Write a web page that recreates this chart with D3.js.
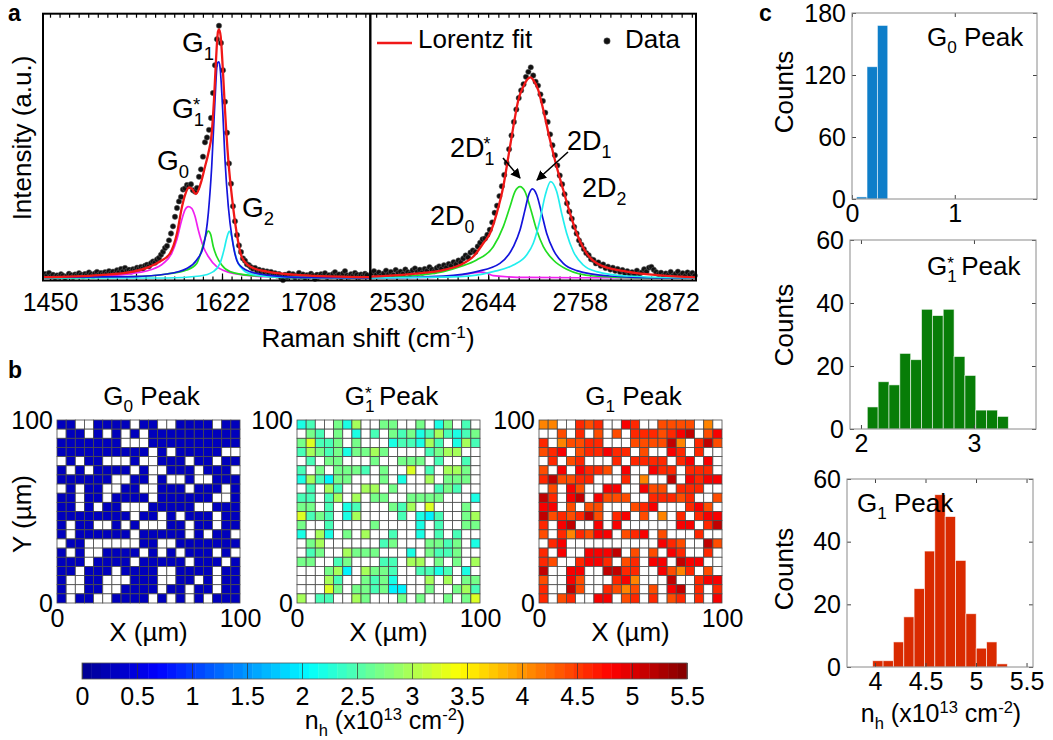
<!DOCTYPE html>
<html>
<head>
<meta charset="utf-8">
<script src="https://cdn.jsdelivr.net/npm/d3@7"></script>
<style>
  body { margin: 0; background: #fff; }
  text { font-family: "Liberation Sans", Arial, sans-serif; fill: #000; }
</style>
</head>
<body>
<script>
// ---------- panel a : Raman spectra (intensity in a.u., 0-100) ----------
var gShift = d3.range(1445, 1768, 2);
var gCounts = [
  1.5,0.8,1.9,0.6,1.2,0.3,1.0,0.5,1.4,0.9,
  0.2,0.7,1.6,1.1,0.4,1.3,0.9,1.8,1.2,0.6,
  1.5,1.0,2.1,1.4,0.8,1.7,2.3,1.2,1.9,1.4,
  2.2,1.6,2.6,1.8,2.4,1.5,2.9,2.2,3.4,2.5,
  3.8,2.7,3.1,2.4,3.3,2.9,3.9,3.4,4.2,3.6,
  4.6,5.0,4.4,5.6,6.2,5.8,7.0,7.6,8.8,9.9,
  11.3,12.1,14.2,16.8,19.5,23.1,26.4,28.9,30.6,33.4,
  33.8,35.1,34.6,35.4,33.1,32.6,34.0,38.2,41.0,45.8,
  51.2,53.0,55.9,60.4,69.8,80.3,90.1,95.2,88.7,78.4,
  66.5,54.8,43.2,35.6,27.1,21.4,16.2,12.3,9.8,7.4,
  6.5,5.2,4.8,4.1,3.5,3.8,2.7,3.1,2.2,2.8,
  1.9,2.5,1.6,2.3,1.1,1.8,0.9,1.5,0.2,-0.8,
  1.2,0.4,1.7,0.8,1.4,0.3,1.0,1.9,0.6,1.3,
  0.2,1.1,0.7,1.6,0.9,-0.3,1.2,0.5,1.4,0.8,
  1.8,0.4,1.1,0.6,1.5,2.2,0.9,1.3,0.3,1.7,
  2.6,1.0,0.5,1.4,0.8,1.9,1.2,0.4,1.3,0.7,
  1.6,1.1
];
var gFitX = [1443,1500,1533,1550,1560,1570,1577,1582,1585,1589,1592,1596,1601.7,1605,1608.3,1611.7,1614,1616,1618,1619,1620.7,1622.7,1625,1628.3,1632.3,1636.7,1641.7,1650,1667,1700,1770];
var gFitY = [0.3,1.1,2.4,4.3,6.2,9.3,16.9,26.9,31.3,34.2,33.6,31.7,37.0,42.0,47.0,54.6,67.2,82.3,93.0,93.8,91.1,79.7,63.4,44.5,29.4,16.9,8.0,4.3,2.4,1.1,0.3];
var g0X = [1443,1500,1533.3,1550,1563.3,1571.7,1576.7,1581.7,1585,1588.3,1591.7,1595,1598.3,1603.3,1608.3,1616.7,1633.3,1666.7,1770];
var g0Y = [0.25,0.75,1.76,3.0,5.5,9.3,14.3,21.9,25.7,26.9,26.3,23.3,18.1,11.8,8.1,4.3,1.76,0.5,0];
var g1sX = [1443,1533.3,1566.7,1586.7,1596.7,1601.7,1605,1608.3,1610.7,1613.3,1616.7,1621.7,1630,1650,1700,1770];
var g1sY = [0,0.5,1.5,3.0,5.5,10.6,15.0,17.7,16.4,11.8,8.1,4.9,2.4,1.0,0.25,0];
var g1X = [1443,1533.3,1566.7,1586.7,1596.7,1603.3,1608.3,1611.7,1615,1617.3,1618.7,1620,1622.7,1625,1628.3,1632.3,1638.3,1650,1666.7,1700,1770];
var g1Y = [0.2,0.5,1.5,3.6,6.8,11.8,24.4,42.0,67.2,81.0,81.6,79.7,63.4,44.5,27.0,14.5,5.5,2.4,1.1,0.25,0];
var g2X = [1443,1566.7,1600,1613.3,1620,1624,1626.7,1629.3,1631.7,1635,1638.3,1643.3,1653.3,1683.3,1770];
var g2Y = [0,0,0.75,2.4,5.5,10.6,15.0,17.6,15.5,9.4,5.5,3.0,1.26,0.25,0];

var dShift = d3.range(2499, 2902, 3);
var dCounts = [
  1.8,2.6,1.2,2.1,0.9,1.7,2.8,1.4,2.3,1.1,
  3.0,1.9,2.4,1.5,3.2,2.2,1.6,2.9,3.6,2.4,
  3.1,2.0,3.4,2.7,4.1,3.2,2.5,3.8,4.4,3.5,
  4.8,3.9,5.3,4.6,6.0,5.2,6.6,5.9,7.4,8.5,
  7.8,9.6,10.4,9.8,11.9,13.3,14.6,14.9,16.3,18.2,
  21.0,24.6,27.3,30.9,34.6,38.9,43.4,48.6,53.8,58.9,
  63.6,67.9,70.8,73.1,75.9,77.8,79.5,76.4,74.1,72.6,
  69.3,66.8,62.4,58.9,54.2,50.1,46.3,42.5,38.7,35.4,
  31.6,28.2,25.1,22.4,19.3,16.8,14.2,12.6,10.9,9.4,
  8.6,7.1,6.8,5.5,5.9,4.6,5.1,3.8,4.3,3.2,
  3.9,2.7,3.4,2.3,3.0,1.9,2.6,1.5,2.2,1.3,
  2.8,1.6,2.1,3.3,2.4,3.9,4.2,3.1,2.2,1.4,
  2.0,0.9,1.7,1.1,2.3,0.8,1.5,2.4,1.0,1.8,
  0.7,2.1,1.3,1.9,0.9
];
var dFitX = [2497,2547,2588,2609,2625.5,2637.9,2646.3,2654.6,2662.8,2669.1,2675.3,2681.5,2687.7,2693.9,2696.9,2700.1,2706.3,2712.6,2720.9,2729.2,2737.4,2745.8,2754.1,2766.5,2783.1,2816.3,2857.7,2903];
var dFitY = [0.5,1.5,3.0,4.9,8.1,13.1,16.9,24.4,34.5,45.8,57.1,67.2,72.2,75.3,75.7,74.7,70.9,63.4,52.1,42.0,33.2,24.4,16.9,9.3,4.9,2.4,1.0,0.25];
var d0X = [2497,2580,2608.9,2625.5,2634.8,2642.1,2650.3,2691.8,2903];
var d0Y = [0,0.3,1.0,1.9,2.2,1.9,0.9,0.2,0];
var d1sX = [2497,2546.8,2588.2,2608.9,2629.6,2650.3,2662.8,2671.1,2677.3,2683.6,2689.8,2696.0,2704.3,2712.6,2725.0,2741.6,2774.7,2836.9,2903];
var d1sY = [0,0.75,2.4,4.3,6.8,11.8,19.4,26.9,32.6,34.5,32.6,26.9,18.1,11.8,6.8,3.3,0.75,0,0];
var d1X = [2497,2588.2,2629.6,2658.6,2675.3,2683.6,2689.8,2693.9,2698.9,2704.3,2710.5,2716.7,2725.0,2737.4,2754.1,2795.5,2857.7,2903];
var d1Y = [0,0.75,2.4,5.5,11.8,18.1,25.7,30.8,33.6,31.4,24.4,16.9,10.6,5.5,2.8,0.75,0,0];
var d2X = [2497,2608.9,2650.3,2675.3,2691.8,2700.1,2708.4,2714.6,2721.7,2729.2,2735.4,2741.6,2749.9,2762.3,2778.9,2816.3,2903];
var d2Y = [0,0.5,2.4,4.9,8.7,13.1,21.9,30.8,36.4,32.6,24.4,16.9,10.0,4.9,2.4,0.75,0];

var gTicks = [1450, 1536, 1622, 1708];
var dTicks = [2530, 2644, 2758, 2872];

// ---------- panel b : n_h maps, 20 x 20, top row = Y 100 ('.' = no peak) ----------
var g0Map = [
  "BB..BBBB.BB..BBBB.BB", ".BB.B.B.B.BBBBBBBBBB", "BBBBBBB...BBBBBBBBBB", "BBBBBBBBBB.B.BBBBB..",
  ".B.BB...B..BBB.BB.BB", "B.B.BBBB.B..BBB.BBB.", "BBBBBB..BB.B..B..BBB", ".B.BB..BB..BBB.BBB.B",
  "BB.BB.BBBB.BBBBBB..B", "BB.B.BB...BBBBB..BBB", "BBBBBBBB.BB.B.BBB.BB", "B.BB..B.B...BB.BB.BB",
  "B.BBBBBB.BBBBB.B.BB.", ".BB......BB..BBBBBBB", "B.B..BBBB.B.B.BBB.B.", "BBB.BBBB.BBBBB.BBB.B",
  "BB.BBB.BBBB..BBBB.BB", "B..BB...BBB..BB.B.BB", "B..BB..BBBB.BB.BB.BB", "B.BB..BBBB.B.B.B.BBB"
];
var g0Level = {B: 0.28};
var g1sMap = [
  "12..314..33..3.13.2.", ".32.3.1.2.3231242123", "35223.3...122142.142", "2432313343....2344..",
  ".2.33...3..333.2..2.", "2.3.3332.3..5.2.443.", "142033...3.1..4.333.", ".2.42..44.3....232..",
  "22.24.4.33..3333...1", "33.2.12...324.5...3.", "5232.14....2.102..34", "3..2....3....1.2..33",
  "1.41.3.4..2..1.2.2..", ".34......23...3323.1", ".23..4333...1.3223..", "33..23...22.44.3.3.4",
  "...340.4332..2212.1.", "...42..3231...4.4.33", "...53.332300..3..342", "4.22..43...3.3..3.35"
];
var g1sLevel = {"0": 2.0, "1": 2.2, "2": 2.45, "3": 2.7, "4": 2.95, "5": 3.25};
var g1Map = [
  "11..323..43..2222.1.", "..2.3.2.2.3332345.24", "3.12233...222251.352", "234.233433.2..43.3..",
  ".3.23...3.3333.34.4.", "2.4.4332.4..433.333.", "352233...3.1..5.4344", ".2.42..44..422.333..",
  "53.45.4222..33323..2", "44.2.22...234...342.", "5232352.34.2.1.3.344", "3.45..4.4......44.35",
  "2.313244.234.2...3..", ".34..........432..52", "3.4..4445.2.2.43..3.", "32..3443.23.44.544..",
  "5..44..5533..4213.2.", "2..42...341...5..344", "3..52..3212.2.45.3.3", "3.23..44.23.3.23.3.4"
];
var g1Level = {"1": 4.1, "2": 4.4, "3": 4.6, "4": 4.85, "5": 5.15};
var cbTicks = [0, 0.5, 1, 1.5, 2, 2.5, 3, 3.5, 4, 4.5, 5, 5.5];

// ---------- panel c : histograms ----------
var h0Edges = [0.045, 0.146, 0.247, 0.348];
var h0Counts = [2, 128, 168];
var h1sEdges = [2.056,2.152,2.248,2.344,2.440,2.536,2.632,2.728,2.824,2.920,3.016,3.112,3.208,3.304];
var h1sCounts = [7, 15, 14, 24, 22, 38, 36, 38, 23, 17, 6, 6, 4];
var h1Edges = [3.977,4.080,4.182,4.285,4.387,4.490,4.592,4.695,4.797,4.900,5.002,5.105,5.207,5.310];
var h1Counts = [2, 2, 8, 16, 25, 37, 55, 48, 34, 17, 6, 8, 1];

// ------------------------------------------------------------------
var svg = d3.select("body").append("svg")
    .attr("width", 1053).attr("height", 740)
    .style("display", "block");
var defs = svg.append("defs");

// text with sub/superscripts
function rich(parent, x, y, size, parts, anchor, rotate) {
  var t = parent.append("text")
      .attr("font-size", size)
      .attr("text-anchor", anchor || "start");
  if (rotate) t.attr("transform", "translate(" + x + "," + y + ") rotate(" + rotate + ")");
  else t.attr("x", x).attr("y", y);
  var shift = 0;
  parts.forEach(function(p) {
    if (typeof p === "string") p = {t: p};
    var target = p.lift != null ? p.lift : (p.sub ? 0.28 : (p.sup ? -0.36 : 0));
    var s = t.append("tspan").text(p.t).attr("dy", ((target - shift) * size).toFixed(1));
    if (p.sub || p.sup) s.attr("font-size", (size * 0.66).toFixed(1));
    if (p.dx) s.attr("dx", p.dx);
    shift = target;
  });
  return t;
}

var nMax = 5.5;
var jet = d3.scaleLinear()
    .domain([0, 0.125, 0.375, 0.625, 0.875, 1].map(function(t) { return t * nMax; }))
    .range(["#000090", "#0000ff", "#00ffff", "#ffff00", "#ff0000", "#800000"])
    .clamp(true);

var nhLabel = ["n", {t: "h", sub: true}, " (x10", {t: "13", sup: true}, " cm", {t: "-2", sup: true}, ")"];

// ================= panel a =================
var yA = d3.scaleLinear().domain([0, 100]).range([278, 13]);
var xG = d3.scaleLinear().domain([1443, 1770]).range([43, 370]);
var xD = d3.scaleLinear().domain([2497, 2902.5]).range([370, 696]);
var frameTop = 13.7, frameBottom = 280.5;

defs.append("marker").attr("id", "arrow").attr("viewBox", "0 0 10 10")
    .attr("refX", 9).attr("refY", 5)
    .attr("markerWidth", 10).attr("markerHeight", 10)
    .attr("markerUnits", "userSpaceOnUse").attr("orient", "auto")
  .append("path").attr("d", "M0,0 L10,5 L0,10 z").attr("fill", "#000");

function spectrum(id, x, shift, counts, fits, ticks) {
  var r = x.range();
  defs.append("clipPath").attr("id", id).append("rect")
      .attr("x", r[0]).attr("y", frameTop).attr("width", r[1] - r[0]).attr("height", frameBottom - frameTop);
  var g = svg.append("g");

  var step = (ticks[1] - ticks[0]) / 9;
  var minor = d3.range(ticks[0] - 4 * step, x.domain()[1], step)
      .filter(function(v) { return v > x.domain()[0] + 1 && v < x.domain()[1] - 1; });
  g.append("g").attr("transform", "translate(0," + frameBottom + ")")
      .call(d3.axisBottom(x).tickValues(minor).tickSize(-4).tickFormat(""))
      .call(function(a) { a.select(".domain").remove(); });
  g.append("g").attr("transform", "translate(0," + frameTop + ")")
      .call(d3.axisTop(x).tickValues(minor).tickSize(-4).tickFormat(""))
      .call(function(a) { a.select(".domain").remove(); });
  g.append("g").attr("transform", "translate(0," + frameBottom + ")")
      .call(d3.axisBottom(x).tickValues(ticks).tickSize(-7).tickPadding(13).tickFormat(d3.format("d")))
      .call(function(a) {
        a.select(".domain").remove();
        a.selectAll("text").attr("font-size", 25).attr("font-family", null);
      });
  g.selectAll(".tick line").attr("stroke", "#000").attr("stroke-width", 1.2);

  g.append("g").selectAll("circle").data(shift).join("circle")
      .attr("cx", function(d) { return x(d); })
      .attr("cy", function(d, i) { return yA(counts[i]); })
      .attr("r", 2.7)
      .attr("fill", "#111").attr("stroke", "#666").attr("stroke-width", 0.5);

  var line = d3.line()
      .x(function(d) { return x(d[0]); })
      .y(function(d) { return yA(d[1]); })
      .curve(d3.curveMonotoneX);
  fits.forEach(function(f) {
    g.append("path")
        .datum(f.x.map(function(v, i) { return [v, f.y[i]]; }))
        .attr("clip-path", "url(#" + id + ")")
        .attr("fill", "none").attr("stroke", f.color)
        .attr("stroke-width", f.w).attr("stroke-linejoin", "round")
        .attr("d", line);
  });
}

spectrum("clipG", xG, gShift, gCounts, [
  {x: g0X, y: g0Y, color: "#f020f0", w: 1.7},
  {x: g1sX, y: g1sY, color: "#22dd22", w: 1.7},
  {x: g2X, y: g2Y, color: "#22eeee", w: 1.7},
  {x: g1X, y: g1Y, color: "#1414dc", w: 1.7},
  {x: gFitX, y: gFitY, color: "#f01818", w: 2.3}
], gTicks);

spectrum("clipD", xD, dShift, dCounts, [
  {x: d0X, y: d0Y, color: "#f020f0", w: 1.7},
  {x: d1sX, y: d1sY, color: "#22dd22", w: 1.7},
  {x: d1X, y: d1Y, color: "#1414dc", w: 1.7},
  {x: d2X, y: d2Y, color: "#22eeee", w: 1.7},
  {x: dFitX, y: dFitY, color: "#f01818", w: 2.3}
], dTicks);

// frame
svg.append("rect").attr("x", 43).attr("y", frameTop)
    .attr("width", 696 - 43).attr("height", frameBottom - frameTop)
    .attr("fill", "none").attr("stroke", "#000").attr("stroke-width", 2);
svg.append("line").attr("x1", 370.3).attr("x2", 370.3).attr("y1", frameTop).attr("y2", frameBottom)
    .attr("stroke", "#000").attr("stroke-width", 2.4);

// labels
svg.append("text").attr("x", 8).attr("y", 21).attr("font-size", 23).attr("font-weight", "bold").text("a");
rich(svg, 31, 138, 26, ["Intensity (a.u.)"], "middle", -90);
rich(svg, 368, 347, 26, ["Raman shift (cm", {t: "-1", sup: true}, ")"], "middle");

rich(svg, 182, 52, 28, ["G", {t: "1", sub: true}]);
rich(svg, 172, 118, 28, ["G", {t: "1", sub: true}, {t: "*", sup: true, lift: -0.25, dx: -11}]);
rich(svg, 157, 170, 28, ["G", {t: "0", sub: true}]);
rich(svg, 242, 217, 28, ["G", {t: "2", sub: true}]);

rich(svg, 450, 157, 27, ["2D", {t: "1", sub: true}, {t: "*", sup: true, lift: -0.25, dx: -11}]);
rich(svg, 567, 150, 27, ["2D", {t: "1", sub: true}]);
rich(svg, 582, 197, 27, ["2D", {t: "2", sub: true}]);
rich(svg, 430, 225, 27, ["2D", {t: "0", sub: true}]);

svg.append("line").attr("x1", 503).attr("y1", 158).attr("x2", 520).attr("y2", 178)
    .attr("stroke", "#000").attr("stroke-width", 1.6).attr("marker-end", "url(#arrow)");
svg.append("line").attr("x1", 568).attr("y1", 152).attr("x2", 537).attr("y2", 180)
    .attr("stroke", "#000").attr("stroke-width", 1.6).attr("marker-end", "url(#arrow)");

// legend
svg.append("line").attr("x1", 377).attr("x2", 412).attr("y1", 43).attr("y2", 43)
    .attr("stroke", "#f01818").attr("stroke-width", 2.3);
rich(svg, 418, 48, 26, ["Lorentz fit"]);
svg.append("circle").attr("cx", 607).attr("cy", 41).attr("r", 3.2)
    .attr("fill", "#111").attr("stroke", "#666").attr("stroke-width", 0.5);
rich(svg, 625, 48, 26, ["Data"]);

// ================= panel b =================
svg.append("text").attr("x", 8).attr("y", 378).attr("font-size", 23).attr("font-weight", "bold").text("b");

var mapTop = 420, mapSize = 183;
var maps = [
  {rows: g0Map, level: g0Level, x0: 57, title: ["G", {t: "0", sub: true}, " Peak"]},
  {rows: g1sMap, level: g1sLevel, x0: 297,
    title: ["G", {t: "1", sub: true}, {t: "*", sup: true, lift: -0.25, dx: -9.5}, " Peak"]},
  {rows: g1Map, level: g1Level, x0: 539, title: ["G", {t: "1", sub: true}, " Peak"]}
];

maps.forEach(function(m, k) {
  var g = svg.append("g");
  var cols = d3.scaleBand().domain(d3.range(20)).range([m.x0, m.x0 + mapSize]);
  var rowsS = d3.scaleBand().domain(d3.range(20)).range([mapTop, mapTop + mapSize]);
  var cells = [];
  m.rows.forEach(function(row, r) {
    for (var c = 0; c < 20; c++) cells.push({r: r, c: c, code: row.charAt(c)});
  });
  g.append("g").selectAll("rect").data(cells).join("rect")
      .attr("x", function(d) { return cols(d.c); })
      .attr("y", function(d) { return rowsS(d.r); })
      .attr("width", cols.bandwidth()).attr("height", rowsS.bandwidth())
      .attr("fill", function(d) {
        var v = m.level[d.code];
        return v == null ? "#fff" : jet(v);
      })
      .attr("stroke", "#4a4a4a").attr("stroke-width", 0.8);

  var xl = d3.scaleLinear().domain([0, 100]).range([m.x0, m.x0 + mapSize]);
  var yl = d3.scaleLinear().domain([0, 100]).range([mapTop + mapSize, mapTop]);
  g.append("g").attr("transform", "translate(0," + (mapTop + mapSize) + ")")
      .call(d3.axisBottom(xl).tickValues([0, 100]).tickSize(0).tickPadding(6))
      .call(function(a) { a.select(".domain").remove(); a.selectAll("text").attr("font-size", 25).attr("font-family", null); });
  g.append("g").attr("transform", "translate(" + m.x0 + ",0)")
      .call(d3.axisLeft(yl).tickValues([0, 100]).tickSize(0).tickPadding(4))
      .call(function(a) { a.select(".domain").remove(); a.selectAll("text").attr("font-size", 25).attr("font-family", null); });

  rich(g, m.x0 + mapSize / 2 + 3, 405, 26, m.title, "middle");
  rich(g, m.x0 + mapSize / 2, 641, 26, ["X (\u00b5m)"], "middle");
  if (k === 0) rich(g, 31, 514, 26, ["Y (\u00b5m)"], "middle", -90);
});

// colour bar
var cbX = d3.scaleLinear().domain([0, nMax]).range([82, 687]);
var cbTop = 663, cbH = 16;
var cb = svg.append("g");
cb.append("g").selectAll("rect").data(d3.range(64)).join("rect")
    .attr("x", function(i) { return cbX(i * nMax / 64); })
    .attr("width", cbX(nMax / 64) - cbX(0) + 0.4)
    .attr("y", cbTop).attr("height", cbH)
    .attr("fill", function(i) { return jet((i + 0.5) * nMax / 64); });
cb.append("g").attr("transform", "translate(0," + (cbTop + cbH) + ")")
    .call(d3.axisBottom(cbX).tickValues(cbTicks).tickSize(-cbH).tickPadding(8).tickFormat(d3.format("~g")))
    .call(function(a) {
      a.select(".domain").remove();
      a.selectAll(".tick line").attr("stroke", "#333").attr("stroke-width", 0.7);
      a.selectAll("text").attr("font-size", 25).attr("font-family", null);
    });
cb.append("rect").attr("x", cbX(0)).attr("y", cbTop).attr("width", cbX(nMax) - cbX(0)).attr("height", cbH)
    .attr("fill", "none").attr("stroke", "#555").attr("stroke-width", 0.8);
rich(cb, 385, 729, 25, nhLabel, "middle");

// ================= panel c =================
svg.append("text").attr("x", 759).attr("y", 21).attr("font-size", 23).attr("font-weight", "bold").text("c");

var hists = [
  {left: 852, right: 1037, top: 13, bottom: 199, xDom: [0, 1.8], yMax: 180,
   xTicks: [0, 1], yTicks: [0, 60, 120, 180], edges: h0Edges, counts: h0Counts, color: "#0e7ec9",
   title: ["G", {t: "0", sub: true}, " Peak"], tx: 927, ty: 46, countsY: 92},
  {left: 850, right: 1036, top: 240, bottom: 429, xDom: [1.903, 3.549], yMax: 60,
   xTicks: [2, 3], yTicks: [0, 20, 40, 60], edges: h1sEdges, counts: h1sCounts, color: "#077d07",
   title: ["G", {t: "1", sub: true}, {t: "*", sup: true, lift: -0.25, dx: -9.5}, " Peak"], tx: 927, ty: 275, countsY: 325},
  {left: 847, right: 1033, top: 479, bottom: 667, xDom: [3.723, 5.564], yMax: 60,
   xTicks: [4, 4.5, 5, 5.5], yTicks: [0, 20, 40, 60], edges: h1Edges, counts: h1Counts, color: "#d92a00",
   title: ["G", {t: "1", sub: true}, " Peak"], tx: 857, ty: 512, countsY: 569}
];

hists.forEach(function(h, k) {
  var g = svg.append("g");
  var x = d3.scaleLinear().domain(h.xDom).range([h.left, h.right]);
  var y = d3.scaleLinear().domain([0, h.yMax]).range([h.bottom, h.top]);

  g.append("g").selectAll("rect").data(h.counts).join("rect")
      .attr("x", function(d, i) { return x(h.edges[i]); })
      .attr("width", function(d, i) { return x(h.edges[i + 1]) - x(h.edges[i]); })
      .attr("y", function(d) { return y(d); })
      .attr("height", function(d) { return y(0) - y(d); })
      .attr("fill", h.color).attr("stroke", "#ffffff").attr("stroke-opacity", 0.7).attr("stroke-width", 0.8);

  function clean(a) {
    a.select(".domain").remove();
    a.selectAll(".tick line").attr("stroke", "#444");
    a.selectAll("text").attr("font-size", 25).attr("font-family", null);
  }
  g.append("g").attr("transform", "translate(0," + h.bottom + ")")
      .call(d3.axisBottom(x).tickValues(h.xTicks).tickSize(-4).tickPadding(5).tickFormat(d3.format("~g"))).call(clean);
  g.append("g").attr("transform", "translate(0," + h.top + ")")
      .call(d3.axisTop(x).tickValues(h.xTicks).tickSize(-4).tickFormat("")).call(clean);
  g.append("g").attr("transform", "translate(" + h.left + ",0)")
      .call(d3.axisLeft(y).tickValues(h.yTicks).tickSize(-4).tickPadding(6)).call(clean);
  g.append("g").attr("transform", "translate(" + h.right + ",0)")
      .call(d3.axisRight(y).tickValues(h.yTicks).tickSize(-4).tickFormat("")).call(clean);

  g.append("rect").attr("x", h.left).attr("y", h.top)
      .attr("width", h.right - h.left).attr("height", h.bottom - h.top)
      .attr("fill", "none").attr("stroke", "#8a8a8a").attr("stroke-width", 1);

  rich(g, h.tx, h.ty, 26, h.title);
  rich(g, 793, h.countsY, 26, ["Counts"], "middle", -90);
  if (k === 2) rich(g, 941, 722, 25, nhLabel, "middle");
});
</script>
</body>
</html>
